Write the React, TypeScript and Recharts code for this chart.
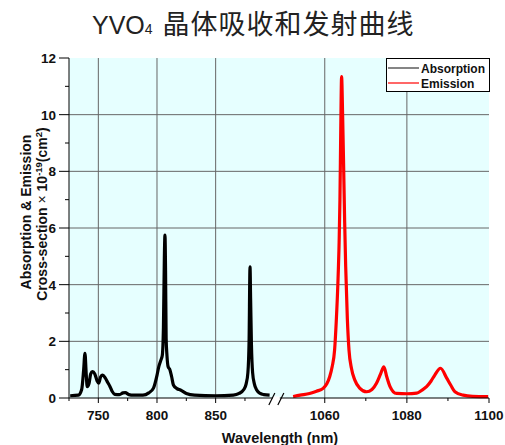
import React from 'react';
import { LineChart, Line, XAxis, YAxis, CartesianGrid } from 'recharts';

// ---- data (wavelength in nm, cross-section in 1e-19 cm^2) ----
const absWavelength = [726, 733, 735.8, 737.5, 738.6, 739.6, 740.5, 742, 743.5, 745, 747, 749, 750.3, 752, 753.7, 756, 758, 760, 762, 764, 768, 771, 773, 776, 780, 788, 793, 797, 800, 801.5, 803, 804.5, 805.5, 806.3, 806.8, 807.3, 807.8, 808.5, 809.5, 811, 812.5, 814, 817, 820, 825, 832, 850, 865, 870, 874, 876, 877.5, 878.5, 879.3, 879.8, 880.5, 881.5, 883, 885, 888, 891, 896];
const absValue = [0.08, 0.1, 0.3, 1.0, 1.58, 0.9, 0.4, 0.5, 0.85, 0.93, 0.85, 0.6, 0.52, 0.75, 0.81, 0.7, 0.55, 0.4, 0.22, 0.13, 0.12, 0.18, 0.19, 0.12, 0.1, 0.1, 0.18, 0.35, 0.8, 1.1, 1.3, 1.5, 2.5, 5.0, 5.75, 4.5, 2.1, 1.5, 1.1, 1.0, 0.75, 0.46, 0.33, 0.28, 0.16, 0.1, 0.08, 0.1, 0.16, 0.3, 0.5, 0.9, 2.0, 4.63, 3.5, 1.9, 0.9, 0.5, 0.28, 0.16, 0.12, 0.1];

const emWavelength = [1052.3, 1054, 1056.3, 1058, 1059.6, 1060.5, 1061.2, 1061.8, 1062.4, 1062.8, 1063.2, 1063.5, 1063.7, 1063.9, 1064.1, 1064.35, 1064.6, 1064.85, 1065.1, 1065.5, 1065.9, 1066.5, 1067.3, 1068.5, 1070.2, 1071.5, 1072.6, 1073.6, 1074.4, 1075.1, 1075.9, 1076.7, 1077.5, 1080, 1082.4, 1083.6, 1084.8, 1085.9, 1086.8, 1088.2, 1089.7, 1090.7, 1091.7, 1093.7, 1096, 1099.8];
const emValue = [0.05, 0.1, 0.16, 0.24, 0.34, 0.5, 0.75, 1.1, 1.7, 2.7, 4.05, 5.5, 7.0, 9.5, 11.34, 10.0, 8.16, 6.2, 4.63, 2.8, 1.7, 1.05, 0.64, 0.35, 0.22, 0.3, 0.52, 0.85, 1.1, 0.75, 0.4, 0.22, 0.16, 0.15, 0.17, 0.27, 0.4, 0.6, 0.81, 1.05, 0.7, 0.45, 0.22, 0.1, 0.06, 0.05];

const yTicks = [0, 1, 2, 3, 4, 5, 6, 7, 8, 9, 10, 11, 12];
const yMajorTicks = [0, 2, 4, 6, 8, 10, 12];
const yGridValues = [2, 4, 6, 8, 10];
const leftMajorTicks = [750, 800, 850];
const leftMinorTicks = [725, 775, 825, 875];
const rightMajorTicks = [1060, 1080, 1100];
const rightMinorTicks = [1070, 1090];

// ---- broken axis mapping ----
const LEFT_START = 725;
const BREAK_AT = 903;
const RIGHT_START = 1050;
const RIGHT_OFFSET = 908;
const RIGHT_SCALE = 3.5;
const RIGHT_END = 1100;

const toAxis = (w: number) => (w < 1000 ? w : RIGHT_OFFSET + (w - RIGHT_START) * RIGHT_SCALE);
const fromAxis = (u: number) => (u <= BREAK_AT + 2 ? u : Math.round(RIGHT_START + (u - RIGHT_OFFSET) / RIGHT_SCALE));

const absData = absWavelength.map((w, i) => ({ u: toAxis(w), v: absValue[i] }));
const emData = emWavelength.map((w, i) => ({ u: toAxis(w), v: emValue[i] }));

const xMajorAxis = [...leftMajorTicks, ...rightMajorTicks].map(toAxis);
const xMinorAxis = [...leftMinorTicks, ...rightMinorTicks].map(toAxis);
const xTicks = [...xMinorAxis, ...xMajorAxis, BREAK_AT].sort((a, b) => a - b);
const xGridValues = [...leftMajorTicks, 1060, 1080].map(toAxis);
const xDomain = [LEFT_START, toAxis(RIGHT_END)];

const FONT = '"Liberation Sans", Arial, sans-serif';

const XTick = (props: any) => {
  const { x, y, payload } = props;
  const v = payload.value;
  if (v === BREAK_AT) {
    return (
      <g>
        <rect x={x - 5} y={y - 1.5} width={7} height={3} fill="#ffffff" />
        <line x1={x - 9} y1={y + 7} x2={x - 3} y2={y - 5} stroke="#000" strokeWidth={1.2} />
        <line x1={x} y1={y + 7} x2={x + 6} y2={y - 5} stroke="#000" strokeWidth={1.2} />
      </g>
    );
  }
  const major = xMajorAxis.includes(v);
  return (
    <g>
      <line x1={x} x2={x} y1={y} y2={y + (major ? 5 : 3)} stroke="#000" strokeWidth={1} />
      {major && (
        <text x={x} y={y + 22} textAnchor="middle" fontFamily={FONT} fontWeight="bold" fontSize={13.5} fill="#111">
          {fromAxis(v)}
        </text>
      )}
    </g>
  );
};

const YTick = (props: any) => {
  const { x, y, payload } = props;
  const v = payload.value;
  const major = yMajorTicks.includes(v);
  return (
    <g>
      <line x1={x} x2={x - (major ? 10 : 4)} y1={y} y2={y} stroke="#000" strokeWidth={1} />
      {major && (
        <text x={x - 13} y={y} dy="0.36em" textAnchor="end" fontFamily={FONT} fontWeight="bold" fontSize={13.5} fill="#111">
          {v}
        </text>
      )}
    </g>
  );
};

export default function App() {
  return (
    <div style={{ position: 'absolute', left: 0, top: 0, width: 505, height: 445, background: '#fff' }}>
      <LineChart width={505} height={445} margin={{ top: 58, right: 16, bottom: 17, left: 9 }}>
        <CartesianGrid
          fill="#e6ffff"
          stroke="#666"
          strokeWidth={1}
          horizontalValues={yGridValues}
          verticalValues={xGridValues}
        />
        <XAxis
          type="number"
          dataKey="u"
          domain={xDomain}
          ticks={xTicks}
          interval={0}
          tick={XTick}
          tickLine={false}
          tickSize={0}
          tickMargin={0}
          axisLine={{ stroke: '#000', strokeWidth: 1 }}
          height={30}
          allowDataOverflow
        />
        <XAxis
          xAxisId="top"
          orientation="top"
          type="number"
          domain={xDomain}
          tick={false}
          tickLine={false}
          height={0}
          axisLine={{ stroke: '#000', strokeWidth: 1 }}
        />
        <YAxis
          type="number"
          domain={[0, 12]}
          ticks={yTicks}
          interval={0}
          tick={YTick}
          tickLine={false}
          tickSize={0}
          tickMargin={0}
          width={60}
          axisLine={{ stroke: '#000', strokeWidth: 1 }}
        />
        <YAxis
          yAxisId="right"
          orientation="right"
          type="number"
          domain={[0, 12]}
          tick={false}
          tickLine={false}
          width={0}
          axisLine={{ stroke: '#000', strokeWidth: 1 }}
        />
        <Line data={absData} dataKey="v" type="monotone" stroke="#000" strokeWidth={3.2} dot={false} isAnimationActive={false} />
        <Line data={emData} dataKey="v" type="monotone" stroke="#ff0000" strokeWidth={3.2} dot={false} isAnimationActive={false} />
      </LineChart>
      <svg width={505} height={445} style={{ position: 'absolute', left: 0, top: 0, pointerEvents: 'none' }}>
        <text x={92} y={34} fontFamily={FONT} fontSize={25} fill="#222">
          YVO<tspan fontSize={14}>4</tspan>
          <tspan dx={10} fontFamily='"Noto Sans CJK SC", sans-serif' fontSize={27} letterSpacing={1}>晶体吸收和发射曲线</tspan>
        </text>
        <g transform="translate(31,212) rotate(-90)">
          <text x={0} y={0} textAnchor="middle" fontFamily={FONT} fontWeight="bold" fontSize={14} fill="#111">
            Absorption &amp; Emission
          </text>
        </g>
        <g transform="translate(46.5,214) rotate(-90)">
          <text x={0} y={0} textAnchor="middle" fontFamily={FONT} fontWeight="bold" fontSize={14} fill="#111">
            Cross-section <tspan fontWeight="normal">×</tspan> 10<tspan fontSize={9.5} dy={-5}>-19</tspan>
            <tspan dy={5}>(cm</tspan><tspan fontSize={9.5} dy={-5}>2</tspan><tspan dy={5}>)</tspan>
          </text>
        </g>
        <text x={280} y={443} textAnchor="middle" fontFamily={FONT} fontWeight="bold" fontSize={14.5} fill="#111">
          Wavelength (nm)
        </text>
        <rect x={386.5} y={58.5} width={103} height={33} fill="#ffffff" stroke="#000" strokeWidth={1} />
        <line x1={388} x2={419} y1={68} y2={68} stroke="#333" strokeWidth={1.2} />
        <text x={421} y={72.5} fontFamily={FONT} fontWeight="bold" fontSize={12} fill="#111">Absorption</text>
        <line x1={388} x2={419} y1={83} y2={83} stroke="#ff0000" strokeWidth={1.2} />
        <text x={421} y={87.5} fontFamily={FONT} fontWeight="bold" fontSize={12} fill="#111">Emission</text>
      </svg>
    </div>
  );
}
